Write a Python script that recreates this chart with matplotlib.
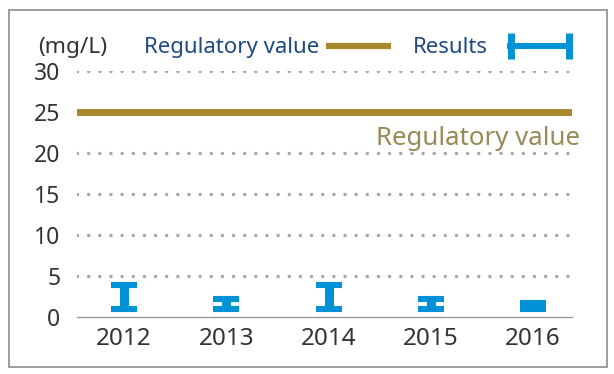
import numpy as np
import matplotlib
matplotlib.use("Agg")
import matplotlib.pyplot as plt
from matplotlib.lines import Line2D
from matplotlib.patches import Rectangle
from matplotlib.legend_handler import HandlerBase

# data
years = ["2012", "2013", "2014", "2015", "2016"]
result_min = [1.0, 1.0, 1.0, 1.0, 1.0]
result_max = [3.9, 2.2, 3.9, 2.2, 1.75]
regulatory_value = 25
y_ticks = [0, 5, 10, 15, 20, 25, 30]

gold = "#a8882c"
blue = "#0092d6"
navy = "#1f4a80"
olive = "#978a55"
grey_text = "#333333"

plt.rcParams["font.family"] = ["Noto Sans", "DejaVu Sans"]


class RangeIcon:
    pass


class HandlerRange(HandlerBase):
    # legend icon: horizontal bar with two end caps, a bit further from its label
    def create_artists(self, legend, orig_handle, xdescent, ydescent, width, height, fontsize, trans):
        y = height / 2 - ydescent
        x0 = -xdescent + 9
        x1 = x0 + width
        h = Line2D([x0, x1], [y, y], color=blue, lw=4.3, solid_capstyle="butt")
        c1 = Line2D([x0 + 2.5, x0 + 2.5], [y - 9.5, y + 9.5], color=blue, lw=5, solid_capstyle="butt")
        c2 = Line2D([x1 - 2.5, x1 - 2.5], [y - 9.5, y + 9.5], color=blue, lw=5, solid_capstyle="butt")
        for a in (h, c1, c2):
            a.set_transform(trans)
        return [h, c1, c2]


fig = plt.figure(figsize=(6.14, 3.74), dpi=100)
ax = fig.add_axes([77 / 614, 57 / 374, 495 / 614, 246 / 374])

x = np.arange(len(years))
lo = np.array(result_min)
hi = np.array(result_max)

# dotted grid
for v in y_ticks[1:]:
    ax.axhline(v, color="#a6a6a6", lw=2.5, linestyle=(0, (0.01, 3.2)),
               dash_capstyle="round", zorder=1)

# regulatory value line
ax.axhline(regulatory_value, color=gold, lw=5, zorder=2)
ax.text(1.016, 21.0, "Regulatory value", transform=ax.get_yaxis_transform(),
        ha="right", va="baseline", color=olive, fontsize=18.6, zorder=3)

# results as range bars
ax.errorbar(x, (lo + hi) / 2, yerr=[(hi - lo) / 2, (hi - lo) / 2], fmt="none",
            ecolor=blue, elinewidth=6.5, capsize=9.4, capthick=4.4, zorder=4)

ax.set_xlim(-0.46, 4.38)
ax.set_ylim(0, 30)
ax.set_xticks(x)
ax.set_xticklabels(years)
ax.set_yticks(y_ticks)
ax.tick_params(axis="both", length=0, colors=grey_text)
ax.tick_params(axis="y", pad=12, labelsize=16.5)
ax.tick_params(axis="x", pad=7, labelsize=17.5)
for s in ["top", "right", "left"]:
    ax.spines[s].set_visible(False)
ax.spines["bottom"].set_color("#999999")
ax.spines["bottom"].set_linewidth(1.0)

ax.text(-0.079, 32.9, "(mg/L)", transform=ax.get_yaxis_transform(),
        ha="left", va="center", color=grey_text, fontsize=16.3, clip_on=False)

reg_handle = Line2D([], [], color=gold, lw=4.5, solid_capstyle="butt")
res_handle = RangeIcon()
leg = ax.legend([reg_handle, res_handle], ["Regulatory value", "Results"],
                handler_map={RangeIcon: HandlerRange()},
                ncol=2, markerfirst=False, frameon=False, loc="center left",
                bbox_to_anchor=(0.135, 1.0935), borderpad=0, borderaxespad=0,
                handlelength=2.93, handletextpad=0.3, columnspacing=1.0,
                fontsize=16)
for t in leg.get_texts():
    t.set_color(navy)

# outer frame
fig.patches.append(Rectangle((9 / 614, 7 / 374), 598 / 614, 357 / 374,
                             transform=fig.transFigure, fill=False,
                             edgecolor="#8c8c8c", lw=1.2))

fig.savefig("out.png", dpi=100)
